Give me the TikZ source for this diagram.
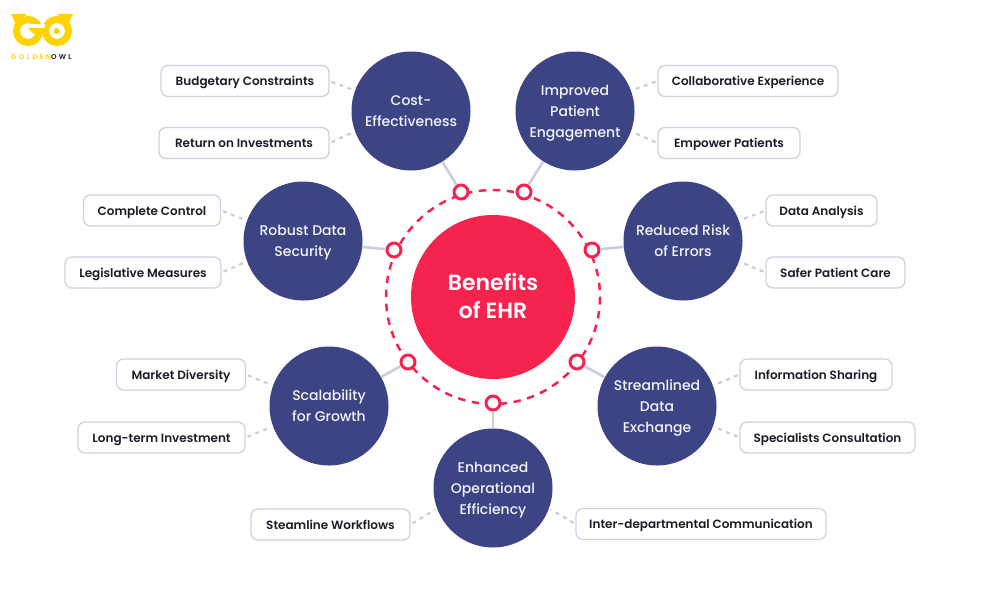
\documentclass[tikz,border=0pt]{standalone}
\usepackage{fontspec}
\setmainfont{Poppins}
\newfontfamily\medf{Poppins Medium}
\newfontfamily\semif{Poppins SemiBold}
\newfontfamily\logof[LetterSpace=34]{Poppins SemiBold}
\definecolor{navy}{HTML}{3D4484}
\definecolor{hot}{HTML}{F7234F}
\definecolor{edgegray}{HTML}{C9CEDC}
\definecolor{pillline}{HTML}{CDD3E2}
\definecolor{gold}{HTML}{FFD200}
\definecolor{ink}{HTML}{1A1C28}
\tikzset{
  x=1pt,y=-1pt,
  hub/.style={circle,fill=hot,minimum size=164pt,inner sep=0pt,text=white,align=center,font=\semif\fontsize{22}{28}\selectfont},
  topic/.style={circle,fill=navy,minimum size=119pt,inner sep=0pt,text=white!94!navy,align=center,font=\medf\fontsize{14}{21}\selectfont},
  port/.style={circle,draw=hot,line width=3pt,fill=white,minimum size=14pt,inner sep=0pt},
  pill/.style={rectangle,rounded corners=7pt,draw=pillline,line width=1.3pt,fill=white,text=ink,minimum height=31pt,inner sep=0pt,text height=12.6pt,text depth=3pt,font=\semif\fontsize{12}{14}\selectfont},
  link/.style={draw=edgegray,line width=2.6pt},
  dotlink/.style={draw=edgegray,line width=2.2pt,dash pattern=on 4pt off 4.5pt,shorten <=2pt,shorten >=2pt},
}
\newcommand{\pillat}[5]{\node[pill,minimum width=#3pt] (#1) at (#2,#4) {#5};}
\newcommand{\topictext}[1]{\rule{0pt}{14.5pt}#1\rule[-4pt]{0pt}{4pt}}
\newcommand{\hubtext}[1]{\rule{0pt}{21.6pt}#1\rule[-6pt]{0pt}{6pt}}
\begin{document}
\begin{tikzpicture}
\useasboundingbox (0,0) rectangle (1000,600);
% logo
\draw[gold,line width=7pt] (28,31) circle[radius=11.5];
\draw[gold,line width=7pt] (57,31) circle[radius=11.5];
\fill[white] (32,28) rectangle (45,23.5);
\fill[gold] (28,28) -- (45,28) -- (45,34) -- (34,34) -- cycle;
\fill[gold] (56.5,31) circle[radius=3];
\fill[gold] (11,14) -- (27,14) -- (16,24) -- cycle;
\fill[gold] (73,14) -- (57,14) -- (68,24) -- cycle;
\node[inner sep=0pt,anchor=west,font=\logof\fontsize{7}{8}\selectfont] (logotext) at (11,57) {\textcolor{gold}{GOLDEN}\textcolor{ink}{OWL}};
% hub
\node[hub] (hub) at (493,297) {\hubtext{Benefits\\of EHR}};
\draw[hot,line width=2.5pt,dash pattern=on 7.5pt off 6.5pt] (493,297) circle[radius=107];
% topics
\node[topic] (cost) at (411,111) {\topictext{Cost-\\Effectiveness}};
\node[topic] (patient) at (575,111) {\topictext{Improved\\Patient\\Engagement}};
\node[topic] (secure) at (303,241) {\topictext{Robust Data\\Security}};
\node[topic] (errors) at (683,241) {\topictext{Reduced Risk\\of Errors}};
\node[topic] (scale) at (329,406) {\topictext{Scalability\\for Growth}};
\node[topic] (stream) at (657,406) {\topictext{Streamlined\\Data\\Exchange}};
\node[topic] (oper) at (493,488) {\topictext{Enhanced\\Operational\\Efficiency}};
% ports
\node[port] (p1) at (461,192) {};
\node[port] (p2) at (524,192) {};
\node[port] (p3) at (592,250) {};
\node[port] (p4) at (577,362) {};
\node[port] (p5) at (493,403) {};
\node[port] (p6) at (408,362) {};
\node[port] (p7) at (394,250) {};
\draw[link] (cost) -- (p1);
\draw[link] (patient) -- (p2);
\draw[link] (errors) -- (p3);
\draw[link] (stream) -- (p4);
\draw[link] (oper) -- (p5);
\draw[link] (scale) -- (p6);
\draw[link] (secure) -- (p7);
% pills
\pillat{b1}{245}{168}{81}{Budgetary Constraints}
\pillat{b2}{244}{170}{143}{Return on Investments}
\pillat{b3}{152}{137}{210.5}{Complete Control}
\pillat{b4}{143}{156}{272.5}{Legislative Measures}
\pillat{b5}{181}{129}{374.5}{Market Diversity}
\pillat{b6}{161.5}{167}{437.5}{Long-term Investment}
\pillat{b7}{330.5}{159}{524.5}{Steamline Workflows}
\pillat{b8}{701}{250}{524}{Inter-departmental Communication}
\pillat{b9}{748}{180}{81}{Collaborative Experience}
\pillat{b10}{729}{142}{143}{Empower Patients}
\pillat{b11}{821.5}{111}{210.5}{Data Analysis}
\pillat{b12}{835.5}{139}{272.5}{Safer Patient Care}
\pillat{b13}{816}{152}{374.5}{Information Sharing}
\pillat{b14}{827.5}{175}{437.5}{Specialists Consultation}
% dotted connectors
\draw[dotlink] (b1.east) -- (cost.160);
\draw[dotlink] (b2.east) -- (cost.200);
\draw[dotlink] (b3.east) -- (secure.160);
\draw[dotlink] (b4.east) -- (secure.200);
\draw[dotlink] (b5.east) -- (scale.160);
\draw[dotlink] (b6.east) -- (scale.200);
\draw[dotlink] (b7.east) -- (oper.200);
\draw[dotlink] (b8.west) -- (oper.340);
\draw[dotlink] (b9.west) -- (patient.20);
\draw[dotlink] (b10.west) -- (patient.340);
\draw[dotlink] (b11.west) -- (errors.20);
\draw[dotlink] (b12.west) -- (errors.340);
\draw[dotlink] (b13.west) -- (stream.20);
\draw[dotlink] (b14.west) -- (stream.340);
\end{tikzpicture}
\end{document}
